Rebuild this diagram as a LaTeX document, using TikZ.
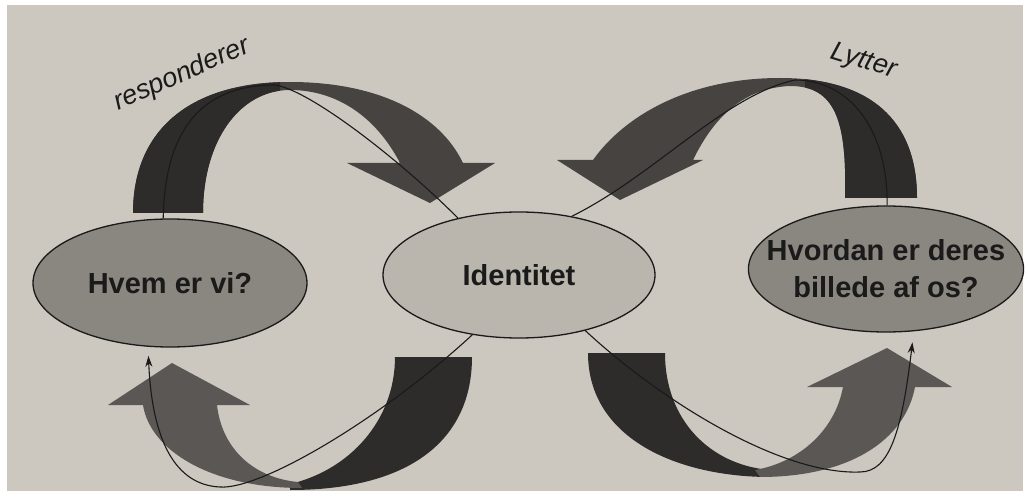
\documentclass[tikz,border=0pt]{standalone}
\usepackage{fontspec}
\setmainfont{Liberation Sans}
\usetikzlibrary{shapes.geometric,arrows.meta}
\definecolor{bg}{HTML}{CCC7BF}
\definecolor{idfill}{HTML}{BAB5AD}
\definecolor{sidefill}{HTML}{8A8680}
\definecolor{darkband}{HTML}{2E2C2B}
\definecolor{midband}{HTML}{464341}
\definecolor{lightband}{HTML}{5A5754}
\definecolor{ink}{HTML}{1A1A1A}
\begin{document}
\begin{tikzpicture}[x=1pt,y=-1pt,
  bubble/.style={ellipse, draw=ink, line width=1.3pt, inner sep=-22pt,
    font=\fontsize{29}{37}\selectfont\bfseries, text=ink, align=center},
  thinline/.style={draw=ink, line width=1.1pt},
  tipend/.style={-{Stealth[length=11pt,width=7pt]}},
  lbl/.style={font=\fontsize{27}{30}\selectfont\itshape, text=ink, anchor=base}]
\useasboundingbox (0,0) rectangle (1028,497);
\fill[white] (0,0) rectangle (1028,497);
\fill[bg] (7,5) rectangle (1023,491);

% top-left ribbon arrow
\def\tlpath{(133,213) .. controls (133,130) and (190,82) .. (290,82)
  .. controls (380,82) and (440,115) .. (463,163) -- (495,163) -- (430,203)
  -- (347,163) -- (400,163) .. controls (375,115) and (335,90) .. (290,90)
  .. controls (240,90) and (203,140) .. (203,213) -- cycle}
\fill[midband] \tlpath;
\begin{scope}
  \clip (0,0) rectangle (280,497);
  \fill[darkband] \tlpath;
\end{scope}

% top-right ribbon arrow
\def\trpath{(917,198) .. controls (917,120) and (870,78) .. (780,78)
  .. controls (690,78) and (625,115) .. (593,160) -- (557,160) -- (620,200)
  -- (703,160) -- (693,160) .. controls (715,115) and (745,88) .. (790,86)
  .. controls (835,86) and (847,120) .. (845,198) -- cycle}
\fill[midband] \trpath;
\begin{scope}
  \clip (805,0) rectangle (1028,497);
  \fill[darkband] \trpath;
\end{scope}

% bottom-left ribbon arrow
\fill[darkband] (395,357) -- (472,357) .. controls (472,440) and (410,490) .. (290,490)
  -- (290,484) .. controls (350,470) and (395,420) .. (395,357) -- cycle;
\fill[lightband] (302,488) .. controls (210,488) and (150,450) .. (143,405)
  -- (108,405) -- (172,363) -- (250,405) -- (217,405)
  .. controls (222,450) and (255,478) .. (298,482) -- cycle;

% bottom-right ribbon arrow
\fill[darkband] (588,353) -- (665,353) .. controls (665,420) and (710,465) .. (770,470)
  -- (770,477) .. controls (680,477) and (588,440) .. (588,353) -- cycle;
\fill[lightband] (760,477) .. controls (850,477) and (905,440) .. (915,387)
  -- (952,387) -- (887,348) -- (807,387) -- (843,387)
  .. controls (835,430) and (800,462) .. (755,470) -- cycle;

% ellipses
\node[bubble, fill=sidefill, minimum width=274pt, minimum height=128pt] (hv) at (170,283) {Hvem er vi?};
\node[bubble, fill=idfill, minimum width=272pt, minimum height=126pt] (id) at (519,275) {Identitet};
\node[bubble, fill=sidefill, minimum width=272pt, minimum height=126pt] (rt) at (886,269) {Hvordan er deres\\billede af os?};

% thin connectors
\draw[thinline] (hv.96) .. controls (165,120) and (210,85) .. (275,85)
  .. controls (310,90) and (400,160) .. (id.137);
\draw[thinline] (id.48) .. controls (655,175) and (725,95) .. (795,80)
  .. controls (850,80) and (888,130) .. (rt.89);
\draw[thinline, tipend, shorten >=9pt] (id.-128) .. controls (380,420) and (260,490) .. (220,487)
  .. controls (175,485) and (152,440) .. (hv.-109);
\draw[thinline, tipend, shorten >=11pt] (id.-40) .. controls (660,400) and (780,475) .. (860,472)
  .. controls (890,472) and (902,430) .. (rt.-66);

% labels
\node[lbl, rotate=24] (resp) at (185,81) {responderer};
\node[lbl, rotate=-17] (lyt) at (862,68) {Lytter};
\end{tikzpicture}
\end{document}
